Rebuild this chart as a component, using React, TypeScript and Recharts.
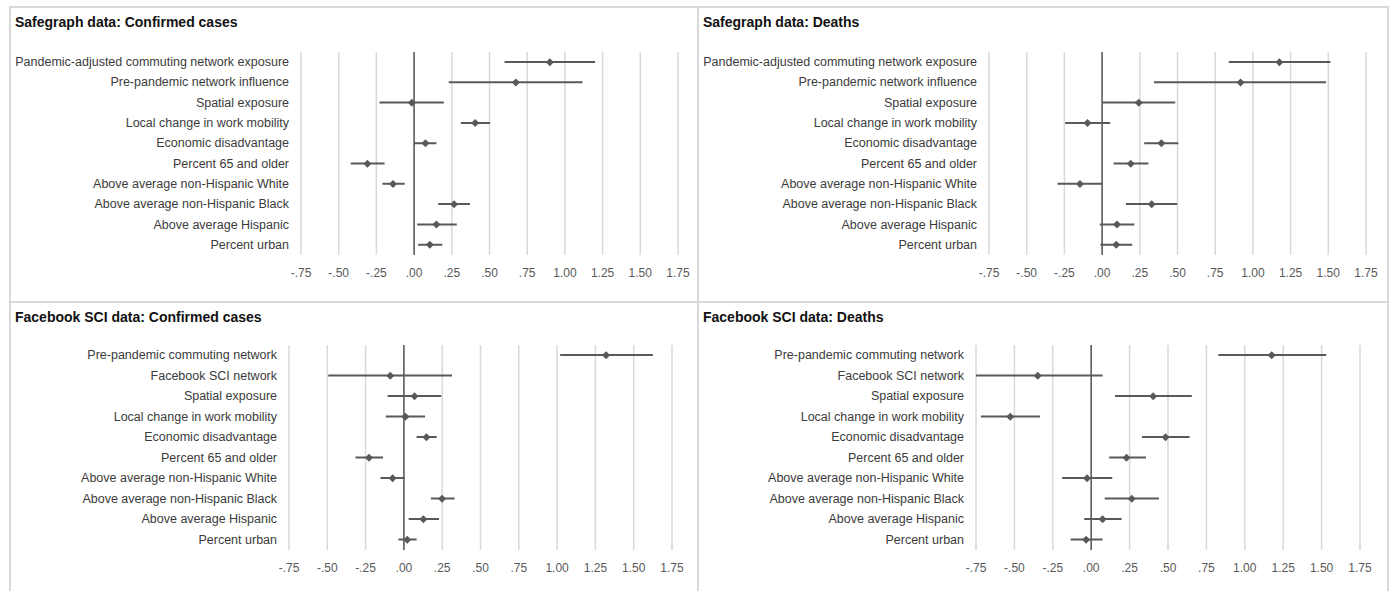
import React from 'react';
import {
  ComposedChart,
  XAxis,
  YAxis,
  CartesianGrid,
  Bar,
  Line,
  ReferenceLine
} from 'recharts';

// row labels
const safegraphLabels = [
  'Pandemic-adjusted commuting network exposure',
  'Pre-pandemic network influence',
  'Spatial exposure',
  'Local change in work mobility',
  'Economic disadvantage',
  'Percent 65 and older',
  'Above average non-Hispanic White',
  'Above average non-Hispanic Black',
  'Above average Hispanic',
  'Percent urban'
];
const facebookLabels = [
  'Pre-pandemic commuting network',
  'Facebook SCI network',
  'Spatial exposure',
  'Local change in work mobility',
  'Economic disadvantage',
  'Percent 65 and older',
  'Above average non-Hispanic White',
  'Above average non-Hispanic Black',
  'Above average Hispanic',
  'Percent urban'
];

const xTicks = [-0.75, -0.5, -0.25, 0, 0.25, 0.5, 0.75, 1, 1.25, 1.5, 1.75];

// Safegraph: confirmed cases
const sgCasesEst = [0.9, 0.675, -0.015, 0.405, 0.075, -0.31, -0.14, 0.265, 0.148, 0.104];
const sgCasesLo = [0.6, 0.23, -0.23, 0.31, 0.0, -0.42, -0.21, 0.16, 0.02, 0.027];
const sgCasesHi = [1.2, 1.117, 0.197, 0.504, 0.148, -0.196, -0.062, 0.37, 0.283, 0.187];

// Safegraph: deaths
const sgDeathsEst = [1.176, 0.918, 0.243, -0.097, 0.393, 0.19, -0.147, 0.329, 0.099, 0.094];
const sgDeathsLo = [0.84, 0.344, 0.0, -0.245, 0.279, 0.076, -0.295, 0.158, -0.015, -0.011];
const sgDeathsHi = [1.514, 1.485, 0.485, 0.054, 0.505, 0.307, 0.0, 0.499, 0.214, 0.2];

// Facebook SCI: confirmed cases
const fbCasesEst = [1.32, -0.089, 0.069, 0.01, 0.147, -0.228, -0.074, 0.249, 0.127, 0.022];
const fbCasesLo = [1.02, -0.494, -0.106, -0.118, 0.083, -0.316, -0.153, 0.176, 0.031, -0.036];
const fbCasesHi = [1.625, 0.314, 0.244, 0.138, 0.214, -0.136, 0.004, 0.331, 0.229, 0.083];

// Facebook SCI: deaths
const fbDeathsEst = [1.175, -0.348, 0.403, -0.527, 0.484, 0.23, -0.027, 0.264, 0.074, -0.033];
const fbDeathsLo = [0.828, -0.75, 0.155, -0.718, 0.331, 0.117, -0.189, 0.088, -0.045, -0.134];
const fbDeathsHi = [1.53, 0.074, 0.655, -0.334, 0.64, 0.357, 0.137, 0.441, 0.198, 0.074];

const FONT = '"Liberation Sans", Arial, sans-serif';
const DARK = '#595959';

const fmtTick = (v: number) => v.toFixed(2).replace(/^(-?)0\./, '$1.');

const Diamond = (props: any) => {
  const { cx, cy, index } = props;
  if (cx == null || cy == null) return <g key={index} />;
  const r = 4;
  return (
    <path
      key={index}
      d={`M${cx},${cy - r}L${cx + r},${cy}L${cx},${cy + r}L${cx - r},${cy}Z`}
      fill={DARK}
    />
  );
};

const YTick = (props: any) => {
  const { x, y, payload } = props;
  return (
    <text x={x} y={y} textAnchor="end" dominantBaseline="central" fontSize={12.5} fill="#3b3b3b" fontFamily={FONT}>
      {payload.value}
    </text>
  );
};

interface PanelProps {
  title: string;
  labels: string[];
  est: number[];
  lo: number[];
  hi: number[];
  box: { x: number; y: number; w: number; h: number };
  plot: { l: number; t: number; r: number; b: number };
}

const Panel: React.FC<PanelProps> = ({ title, labels, est, lo, hi, box, plot }) => {
  const data = labels.map((name, i) => ({ name, est: est[i], range: [lo[i], hi[i]] }));
  const axisH = 30;
  return (
    <div style={{ position: 'absolute', left: box.x, top: box.y, width: box.w, height: box.h }}>
      <div
        style={{
          position: 'absolute',
          left: 5,
          top: 8,
          fontFamily: FONT,
          fontWeight: 'bold',
          fontSize: 14,
          lineHeight: '14px',
          color: '#111',
          whiteSpace: 'nowrap'
        }}
      >
        {title}
      </div>
      <ComposedChart
        layout="vertical"
        width={box.w}
        height={box.h}
        data={data}
        margin={{
          top: plot.t - box.y,
          right: box.x + box.w - plot.r,
          left: 0,
          bottom: box.h - (plot.b - box.y) - axisH
        }}
      >
        <CartesianGrid horizontal={false} stroke="#d9d9d9" strokeWidth={1.5} />
        <XAxis
          type="number"
          domain={[-0.75, 1.75]}
          ticks={xTicks}
          allowDataOverflow
          height={axisH}
          axisLine={false}
          tickLine={false}
          tickSize={0}
          tickMargin={13}
          tickFormatter={fmtTick}
          tick={{ fill: DARK, fontSize: 12, fontFamily: FONT }}
        />
        <YAxis
          type="category"
          dataKey="name"
          width={plot.l - box.x}
          axisLine={false}
          tickLine={false}
          tickSize={0}
          tickMargin={12}
          interval={0}
          tick={<YTick />}
        />
        <ReferenceLine x={0} stroke={DARK} strokeWidth={1.5} />
        <Bar dataKey="range" barSize={2} fill={DARK} isAnimationActive={false} />
        <Line
          dataKey="est"
          stroke="none"
          dot={Diamond}
          activeDot={false}
          isAnimationActive={false}
        />
      </ComposedChart>
    </div>
  );
};

const border = '2px solid #d9d9d9';

export default function App() {
  return (
    <div style={{ position: 'absolute', left: 0, top: 0, width: 1391, height: 591, background: '#fff', overflow: 'hidden' }}>
      <div style={{ position: 'absolute', left: 9, top: 6, width: 1376, height: 620, borderLeft: border, borderTop: border, borderRight: border }} />
      <div style={{ position: 'absolute', left: 697, top: 6, width: 0, height: 600, borderLeft: border }} />
      <div style={{ position: 'absolute', left: 9, top: 301, width: 1378, height: 0, borderTop: border }} />
      <Panel
        title="Safegraph data: Confirmed cases"
        labels={safegraphLabels}
        est={sgCasesEst}
        lo={sgCasesLo}
        hi={sgCasesHi}
        box={{ x: 10, y: 7, w: 688, h: 295 }}
        plot={{ l: 301, t: 52, r: 678, b: 255 }}
      />
      <Panel
        title="Safegraph data: Deaths"
        labels={safegraphLabels}
        est={sgDeathsEst}
        lo={sgDeathsLo}
        hi={sgDeathsHi}
        box={{ x: 698, y: 7, w: 688, h: 295 }}
        plot={{ l: 989, t: 52, r: 1366, b: 255 }}
      />
      <Panel
        title="Facebook SCI data: Confirmed cases"
        labels={facebookLabels}
        est={fbCasesEst}
        lo={fbCasesLo}
        hi={fbCasesHi}
        box={{ x: 10, y: 302, w: 688, h: 289 }}
        plot={{ l: 289, t: 345, r: 672, b: 550 }}
      />
      <Panel
        title="Facebook SCI data: Deaths"
        labels={facebookLabels}
        est={fbDeathsEst}
        lo={fbDeathsLo}
        hi={fbDeathsHi}
        box={{ x: 698, y: 302, w: 688, h: 289 }}
        plot={{ l: 976, t: 345, r: 1360, b: 550 }}
      />
    </div>
  );
}
